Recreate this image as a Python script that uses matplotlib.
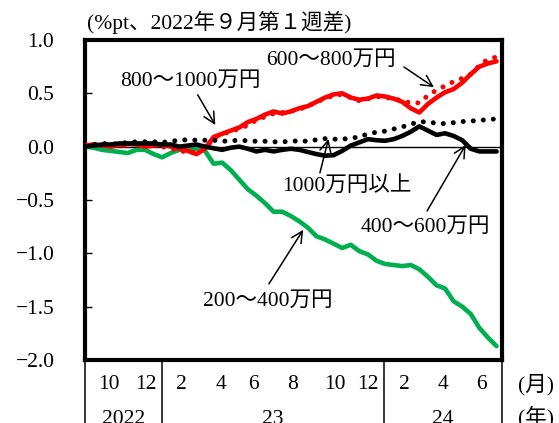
import matplotlib
matplotlib.use('Agg')
import matplotlib.pyplot as plt
import matplotlib.transforms as mtransforms

# fonts: serif for latin/digits, CJK for the japanese text
plt.rcParams['font.family'] = ['Liberation Serif', 'Noto Sans CJK JP']

# weeks since 1st week of Sep 2022 (one reading every 2 weeks)
weeks = list(range(0, 97, 2))

# %pt difference from 2022 Sep week 1
inc_200_400 = [0.00, -0.01, -0.03, -0.04, -0.05, -0.06, -0.03, -0.03, -0.07, -0.10,
               -0.06, -0.03, -0.01, -0.02, -0.04, -0.16, -0.15, -0.22, -0.31, -0.40,
               -0.46, -0.53, -0.61, -0.61, -0.65, -0.70, -0.76, -0.84, -0.87, -0.91,
               -0.95, -0.92, -0.98, -1.01, -1.07, -1.10, -1.11, -1.12, -1.11, -1.15,
               -1.22, -1.30, -1.33, -1.45, -1.50, -1.57, -1.70, -1.79, -1.87]
inc_400_600 = [0.00, 0.01, 0.02, 0.02, 0.03, 0.03, 0.03, 0.03, 0.03, 0.02,
               0.02, 0.00, 0.01, 0.02, 0.00, -0.015, -0.03, -0.01, 0.00, -0.02,
               -0.045, -0.03, -0.045, -0.03, -0.02, -0.03, -0.05, -0.07, -0.085, -0.08,
               -0.04, 0.01, 0.04, 0.07, 0.06, 0.055, 0.07, 0.10, 0.14, 0.19,
               0.15, 0.11, 0.125, 0.10, 0.06, -0.02, -0.045, -0.045, -0.045]
inc_600_800 = [0.00, 0.02, 0.03, 0.02, 0.00, 0.02, 0.03, 0.01, 0.02, 0.00,
               -0.02, -0.03, -0.06, -0.05, -0.02, 0.08, 0.12, 0.14, 0.17, 0.20,
               0.25, 0.28, 0.31, 0.32, 0.33, 0.35, 0.38, 0.42, 0.45, 0.48,
               0.49, 0.46, 0.43, 0.45, 0.47, 0.46, 0.45, 0.43, 0.41, 0.41,
               0.48, 0.53, 0.57, 0.61, 0.64, 0.68, 0.76, 0.82, 0.84]
inc_800_1000 = [0.01, 0.02, 0.01, 0.00, 0.015, 0.025, 0.02, 0.00, 0.01, 0.02,
                0.00, -0.02, -0.04, -0.07, -0.02, 0.09, 0.12, 0.15, 0.18, 0.23,
                0.26, 0.30, 0.33, 0.31, 0.33, 0.36, 0.38, 0.42, 0.46, 0.49,
                0.50, 0.46, 0.44, 0.45, 0.48, 0.47, 0.45, 0.42, 0.36, 0.32,
                0.40, 0.46, 0.51, 0.54, 0.60, 0.68, 0.75, 0.78, 0.80]
inc_1000_up = [0.00, 0.02, 0.03, 0.02, 0.03, 0.04, 0.045, 0.045, 0.045, 0.04,
               0.05, 0.06, 0.065, 0.06, 0.06, 0.06, 0.05, 0.055, 0.06, 0.055,
               0.05, 0.05, 0.045, 0.045, 0.05, 0.055, 0.05, 0.065, 0.075, 0.07,
               0.07, 0.08, 0.09, 0.12, 0.135, 0.145, 0.165, 0.185, 0.21, 0.235,
               0.23, 0.22, 0.215, 0.225, 0.235, 0.24, 0.245, 0.255, 0.26]

# x axis table below the plot
month_labels = ['10', '12', '2', '4', '6', '8', '10', '12', '2', '4', '6']
month_pos = [5.5, 14.2, 22.5, 31.7, 39.3, 48.4, 58.2, 66.1, 74.4, 83.5, 92.4]
year_labels = ['2022', '23', '24']
year_pos = [9.0, 43.9, 83.5]
year_breaks = [0, 17.96, 69.86, 97.27]

fs = 15.5
green = '#00B050'
red = '#FF0000'

fig = plt.figure(figsize=(5.59, 4.23), dpi=100)
ax = fig.add_axes([0.152, 0.149, 0.746, 0.7565])

# lines
dots = (0, (0.01, 2.0))
ax.plot(weeks, inc_200_400, color=green, lw=3.3, solid_capstyle='round', zorder=3)
ax.plot(weeks, inc_600_800, color=red, lw=3.6, ls=dots, dash_capstyle='round', zorder=3)
ax.plot(weeks, inc_800_1000, color=red, lw=3.3, solid_capstyle='round', zorder=4)
ax.plot(weeks, inc_400_600, color='k', lw=3.3, solid_capstyle='round', zorder=5)
ax.plot(weeks, inc_1000_up, color='k', lw=3.6, ls=dots, dash_capstyle='round', zorder=6)
ax.axhline(0, color='k', lw=1.0, zorder=2)

ax.set_xlim(0, 97.27)
ax.set_ylim(-2.0, 1.0)
ax.set_yticks([1.0, 0.5, 0.0, -0.5, -1.0, -1.5, -2.0])
ax.set_yticklabels(['1.0', '0.5', '0.0', '\u22120.5', '\u22121.0', '\u22121.5', '\u22122.0'])
ax.tick_params(axis='y', direction='in', length=5, width=1, pad=22, labelsize=fs)
ax.set_xticks([])
for sp in ax.spines.values():
    sp.set_linewidth(3.0)

# title (unit)
fig.text(0.155, 0.948, '(%pt、2022年９月第１週差)', fontsize=fs, ha='left', va='center')

# month / year table under the axis
trans = mtransforms.blended_transform_factory(ax.transData, ax.transAxes)
for xb in year_breaks:
    ax.plot([xb, xb], [0, -0.25], color='k', lw=1.1, transform=trans, clip_on=False)
for lab, xp in zip(month_labels, month_pos):
    ax.text(xp, -0.078, lab, fontsize=fs, ha='center', va='center', transform=trans)
for lab, xp in zip(year_labels, year_pos):
    ax.text(xp, -0.185, lab, fontsize=fs, ha='center', va='center', transform=trans)
ax.text(105.3, -0.078, '(月)', fontsize=fs, ha='center', va='center', transform=trans, clip_on=False)
ax.text(105.3, -0.18, '(年)', fontsize=fs, ha='center', va='center', transform=trans, clip_on=False)

# labels with arrows
arrow = dict(arrowstyle='->', color='k', lw=1.1, mutation_scale=20, shrinkA=0, shrinkB=0)
ax.text(57.4, 0.81, '600～800万円', fontsize=fs, ha='center', va='center')
ax.annotate('', xy=(81.4, 0.557), xytext=(74.4, 0.747), arrowprops=arrow)
ax.text(24.6, 0.616, '800～1000万円', fontsize=fs, ha='center', va='center')
ax.annotate('', xy=(30.4, 0.203), xytext=(26.3, 0.485), arrowprops=arrow)
ax.text(61.1, -0.38, '1000万円以上', fontsize=fs, ha='center', va='center')
ax.annotate('', xy=(56.8, 0.072), xytext=(54.8, -0.246), arrowprops=arrow)
ax.text(79.4, -0.757, '400～600万円', fontsize=fs, ha='center', va='center')
ax.annotate('', xy=(88.8, 0.016), xytext=(79.8, -0.603), arrowprops=arrow)
ax.text(42.7, -1.453, '200～400万円', fontsize=fs, ha='center', va='center')
ax.annotate('', xy=(50.9, -0.78), xytext=(42.9, -1.287), arrowprops=arrow)

plt.savefig('out.png', dpi=100)
